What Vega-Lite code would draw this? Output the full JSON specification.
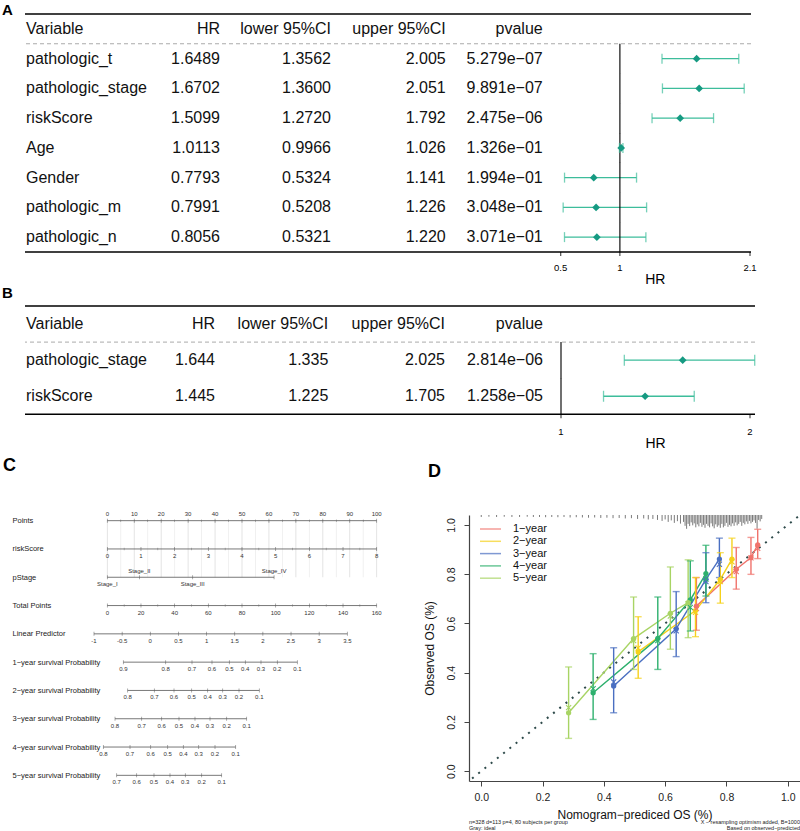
{
"$schema": "https://vega.github.io/schema/vega-lite/v6.json",
"padding": {"left": 2, "top": 2, "right": 0, "bottom": 0},
"config": {"view": {"stroke": null}, "font": "Liberation Sans", "text": {"color": "#111"}, "axis": {"grid": false, "labelFont": "Liberation Sans", "titleFont": "Liberation Sans"}, "title": {"font": "Liberation Sans", "color": "#000"}},
"datasets": {
"forestA": [
{"v": "Variable", "HRt": "HR", "lot": "lower 95%CI", "hit": "upper 95%CI", "pt": "pvalue"},
{"v": "pathologic_t", "HRt": "1.6489", "lot": "1.3562", "hit": "2.005", "pt": "5.279e−07", "hr": 1.6489, "lo": 1.3562, "hi": 2.005},
{"v": "pathologic_stage", "HRt": "1.6702", "lot": "1.3600", "hit": "2.051", "pt": "9.891e−07", "hr": 1.6702, "lo": 1.36, "hi": 2.051},
{"v": "riskScore", "HRt": "1.5099", "lot": "1.2720", "hit": "1.792", "pt": "2.475e−06", "hr": 1.5099, "lo": 1.272, "hi": 1.792},
{"v": "Age", "HRt": "1.0113", "lot": "0.9966", "hit": "1.026", "pt": "1.326e−01", "hr": 1.0113, "lo": 0.9966, "hi": 1.026},
{"v": "Gender", "HRt": "0.7793", "lot": "0.5324", "hit": "1.141", "pt": "1.994e−01", "hr": 0.7793, "lo": 0.5324, "hi": 1.141},
{"v": "pathologic_m", "HRt": "0.7991", "lot": "0.5208", "hit": "1.226", "pt": "3.048e−01", "hr": 0.7991, "lo": 0.5208, "hi": 1.226},
{"v": "pathologic_n", "HRt": "0.8056", "lot": "0.5321", "hit": "1.220", "pt": "3.071e−01", "hr": 0.8056, "lo": 0.5321, "hi": 1.22}
],
"forestB": [
{"v": "Variable", "HRt": "HR", "lot": "lower 95%CI", "hit": "upper 95%CI", "pt": "pvalue"},
{"v": "pathologic_stage", "HRt": "1.644", "lot": "1.335", "hit": "2.025", "pt": "2.814e−06", "hr": 1.644, "lo": 1.335, "hi": 2.025},
{"v": "riskScore", "HRt": "1.445", "lot": "1.225", "hit": "1.705", "pt": "1.258e−05", "hr": 1.445, "lo": 1.225, "hi": 1.705}
],
"axisA": [{"t": 0.5, "lab": "0.5"}, {"t": 1, "lab": "1"}, {"t": 2.1, "lab": "2.1"}],
"axisB": [{"t": 1, "lab": "1"}, {"t": 2, "lab": "2"}],
"nomo": [
{"axis": "Points", "label": "0", "pts": 0}, {"axis": "Points", "label": "10", "pts": 10}, {"axis": "Points", "label": "20", "pts": 20}, {"axis": "Points", "label": "30", "pts": 30}, {"axis": "Points", "label": "40", "pts": 40}, {"axis": "Points", "label": "50", "pts": 50}, {"axis": "Points", "label": "60", "pts": 60}, {"axis": "Points", "label": "70", "pts": 70}, {"axis": "Points", "label": "80", "pts": 80}, {"axis": "Points", "label": "90", "pts": 90}, {"axis": "Points", "label": "100", "pts": 100},
{"axis": "riskScore", "label": "0", "pts": 0}, {"axis": "riskScore", "label": "1", "pts": 12.5}, {"axis": "riskScore", "label": "2", "pts": 25}, {"axis": "riskScore", "label": "3", "pts": 37.5}, {"axis": "riskScore", "label": "4", "pts": 50}, {"axis": "riskScore", "label": "5", "pts": 62.5}, {"axis": "riskScore", "label": "6", "pts": 75}, {"axis": "riskScore", "label": "7", "pts": 87.5}, {"axis": "riskScore", "label": "8", "pts": 100},
{"axis": "pStage", "label": "Stage_I", "pts": 0}, {"axis": "pStage", "label": "Stage_II", "pts": 11.9}, {"axis": "pStage", "label": "Stage_III", "pts": 31.7}, {"axis": "pStage", "label": "Stage_IV", "pts": 61.9},
{"axis": "Total Points", "label": "0", "pts": 0}, {"axis": "Total Points", "label": "20", "pts": 12.5}, {"axis": "Total Points", "label": "40", "pts": 25}, {"axis": "Total Points", "label": "60", "pts": 37.5}, {"axis": "Total Points", "label": "80", "pts": 50}, {"axis": "Total Points", "label": "100", "pts": 62.5}, {"axis": "Total Points", "label": "120", "pts": 75}, {"axis": "Total Points", "label": "140", "pts": 87.5}, {"axis": "Total Points", "label": "160", "pts": 100},
{"axis": "Linear Predictor", "label": "-1", "pts": -4.94}, {"axis": "Linear Predictor", "label": "-0.5", "pts": 5.51}, {"axis": "Linear Predictor", "label": "0", "pts": 15.96}, {"axis": "Linear Predictor", "label": "0.5", "pts": 26.41}, {"axis": "Linear Predictor", "label": "1", "pts": 36.85}, {"axis": "Linear Predictor", "label": "1.5", "pts": 47.3}, {"axis": "Linear Predictor", "label": "2", "pts": 57.75}, {"axis": "Linear Predictor", "label": "2.5", "pts": 68.2}, {"axis": "Linear Predictor", "label": "3", "pts": 78.64}, {"axis": "Linear Predictor", "label": "3.5", "pts": 89.09},
{"axis": "1−year survival Probability", "label": "0.9", "pts": 5.94}, {"axis": "1−year survival Probability", "label": "0.8", "pts": 21.68}, {"axis": "1−year survival Probability", "label": "0.7", "pts": 31.44}, {"axis": "1−year survival Probability", "label": "0.6", "pts": 38.86}, {"axis": "1−year survival Probability", "label": "0.5", "pts": 45.29}, {"axis": "1−year survival Probability", "label": "0.4", "pts": 51.22}, {"axis": "1−year survival Probability", "label": "0.3", "pts": 57.05}, {"axis": "1−year survival Probability", "label": "0.2", "pts": 63.1}, {"axis": "1−year survival Probability", "label": "0.1", "pts": 70.53},
{"axis": "2−year survival Probability", "label": "0.8", "pts": 7.57}, {"axis": "2−year survival Probability", "label": "0.7", "pts": 17.45}, {"axis": "2−year survival Probability", "label": "0.6", "pts": 24.76}, {"axis": "2−year survival Probability", "label": "0.5", "pts": 31.33}, {"axis": "2−year survival Probability", "label": "0.4", "pts": 37.27}, {"axis": "2−year survival Probability", "label": "0.3", "pts": 42.84}, {"axis": "2−year survival Probability", "label": "0.2", "pts": 48.89}, {"axis": "2−year survival Probability", "label": "0.1", "pts": 56.42},
{"axis": "3−year survival Probability", "label": "0.8", "pts": 2.86}, {"axis": "3−year survival Probability", "label": "0.7", "pts": 12.77}, {"axis": "3−year survival Probability", "label": "0.6", "pts": 20.19}, {"axis": "3−year survival Probability", "label": "0.5", "pts": 26.61}, {"axis": "3−year survival Probability", "label": "0.4", "pts": 32.55}, {"axis": "3−year survival Probability", "label": "0.3", "pts": 38.12}, {"axis": "3−year survival Probability", "label": "0.2", "pts": 44.32}, {"axis": "3−year survival Probability", "label": "0.1", "pts": 51.74},
{"axis": "4−year survival Probability", "label": "0.8", "pts": -1.48}, {"axis": "4−year survival Probability", "label": "0.7", "pts": 8.43}, {"axis": "4−year survival Probability", "label": "0.6", "pts": 16.11}, {"axis": "4−year survival Probability", "label": "0.5", "pts": 22.42}, {"axis": "4−year survival Probability", "label": "0.4", "pts": 28.21}, {"axis": "4−year survival Probability", "label": "0.3", "pts": 33.93}, {"axis": "4−year survival Probability", "label": "0.2", "pts": 39.98}, {"axis": "4−year survival Probability", "label": "0.1", "pts": 47.66},
{"axis": "5−year survival Probability", "label": "0.7", "pts": 3.49}, {"axis": "5−year survival Probability", "label": "0.6", "pts": 10.91}, {"axis": "5−year survival Probability", "label": "0.5", "pts": 17.33}, {"axis": "5−year survival Probability", "label": "0.4", "pts": 23.27}, {"axis": "5−year survival Probability", "label": "0.3", "pts": 28.95}, {"axis": "5−year survival Probability", "label": "0.2", "pts": 35.04}, {"axis": "5−year survival Probability", "label": "0.1", "pts": 42.46}
],
"nomoMinor": [
{"axis": "Points", "pts": 5}, {"axis": "Points", "pts": 15}, {"axis": "Points", "pts": 25}, {"axis": "Points", "pts": 35}, {"axis": "Points", "pts": 45}, {"axis": "Points", "pts": 55}, {"axis": "Points", "pts": 65}, {"axis": "Points", "pts": 75}, {"axis": "Points", "pts": 85}, {"axis": "Points", "pts": 95},
{"axis": "riskScore", "pts": 6.25}, {"axis": "riskScore", "pts": 18.75}, {"axis": "riskScore", "pts": 31.25}, {"axis": "riskScore", "pts": 43.75}, {"axis": "riskScore", "pts": 56.25}, {"axis": "riskScore", "pts": 68.75}, {"axis": "riskScore", "pts": 81.25}, {"axis": "riskScore", "pts": 93.75},
{"axis": "Total Points", "pts": 6.25}, {"axis": "Total Points", "pts": 18.75}, {"axis": "Total Points", "pts": 31.25}, {"axis": "Total Points", "pts": 43.75}, {"axis": "Total Points", "pts": 56.25}, {"axis": "Total Points", "pts": 68.75}, {"axis": "Total Points", "pts": 81.25}, {"axis": "Total Points", "pts": 93.75}
],
"cal": [
{"s": "1−year", "x": 0.702, "y": 0.670, "lo": 0.572, "hi": 0.786, "c": 0.660},
{"s": "1−year", "x": 0.832, "y": 0.820, "lo": 0.739, "hi": 0.908, "c": 0.810},
{"s": "1−year", "x": 0.880, "y": 0.867, "lo": 0.799, "hi": 0.949, "c": 0.866},
{"s": "1−year", "x": 0.902, "y": 0.919, "lo": 0.863, "hi": 0.982, "c": 0.905},
{"s": "2−year", "x": 0.512, "y": 0.484, "lo": 0.377, "hi": 0.627, "c": 0.500},
{"s": "2−year", "x": 0.699, "y": 0.652, "lo": 0.546, "hi": 0.786, "c": 0.645},
{"s": "2−year", "x": 0.780, "y": 0.779, "lo": 0.682, "hi": 0.887, "c": 0.770},
{"s": "2−year", "x": 0.818, "y": 0.861, "lo": 0.786, "hi": 0.946, "c": 0.850},
{"s": "3−year", "x": 0.432, "y": 0.346, "lo": 0.237, "hi": 0.501, "c": 0.362},
{"s": "3−year", "x": 0.636, "y": 0.578, "lo": 0.465, "hi": 0.729, "c": 0.570},
{"s": "3−year", "x": 0.733, "y": 0.779, "lo": 0.684, "hi": 0.887, "c": 0.770},
{"s": "3−year", "x": 0.777, "y": 0.861, "lo": 0.786, "hi": 0.946, "c": 0.840},
{"s": "4−year", "x": 0.365, "y": 0.318, "lo": 0.210, "hi": 0.477, "c": 0.335},
{"s": "4−year", "x": 0.576, "y": 0.539, "lo": 0.413, "hi": 0.707, "c": 0.530},
{"s": "4−year", "x": 0.682, "y": 0.695, "lo": 0.569, "hi": 0.854, "c": 0.665},
{"s": "4−year", "x": 0.733, "y": 0.802, "lo": 0.711, "hi": 0.917, "c": 0.780},
{"s": "5−year", "x": 0.285, "y": 0.237, "lo": 0.133, "hi": 0.423, "c": 0.258},
{"s": "5−year", "x": 0.497, "y": 0.538, "lo": 0.413, "hi": 0.707, "c": 0.530},
{"s": "5−year", "x": 0.617, "y": 0.641, "lo": 0.495, "hi": 0.829, "c": 0.630},
{"s": "5−year", "x": 0.675, "y": 0.684, "lo": 0.542, "hi": 0.858, "c": 0.680}
],
"rug": [
{"p": 0.0, "e": 1.032}, {"p": 0.025, "e": 1.033}, {"p": 0.05, "e": 1.032}, {"p": 0.075, "e": 1.033}, {"p": 0.1, "e": 1.032}, {"p": 0.125, "e": 1.032}, {"p": 0.15, "e": 1.033}, {"p": 0.17, "e": 1.032}, {"p": 0.19, "e": 1.032}, {"p": 0.21, "e": 1.031}, {"p": 0.23, "e": 1.032}, {"p": 0.25, "e": 1.031}, {"p": 0.27, "e": 1.032}, {"p": 0.29, "e": 1.03}, {"p": 0.31, "e": 1.031}, {"p": 0.33, "e": 1.03}, {"p": 0.35, "e": 1.029}, {"p": 0.37, "e": 1.03}, {"p": 0.39, "e": 1.028}, {"p": 0.41, "e": 1.029}, {"p": 0.43, "e": 1.027}, {"p": 0.45, "e": 1.028}, {"p": 0.47, "e": 1.026}, {"p": 0.49, "e": 1.027}, {"p": 0.51, "e": 1.024}, {"p": 0.53, "e": 1.026}, {"p": 0.545, "e": 1.022}, {"p": 0.56, "e": 1.024}, {"p": 0.575, "e": 1.02}, {"p": 0.59, "e": 1.016}, {"p": 0.6, "e": 1.022}, {"p": 0.61, "e": 1.012}, {"p": 0.62, "e": 1.018}, {"p": 0.63, "e": 1.008}, {"p": 0.64, "e": 1.015}, {"p": 0.65, "e": 1.005}, {"p": 0.66, "e": 1.012}, {"p": 0.665, "e": 0.996}, {"p": 0.67, "e": 0.984}, {"p": 0.675, "e": 1.004}, {"p": 0.68, "e": 0.995}, {"p": 0.685, "e": 1.01}, {"p": 0.69, "e": 0.998}, {"p": 0.695, "e": 1.006}, {"p": 0.7, "e": 0.99}, {"p": 0.705, "e": 1.002}, {"p": 0.71, "e": 0.994}, {"p": 0.715, "e": 1.008}, {"p": 0.72, "e": 0.992}, {"p": 0.725, "e": 1.0}, {"p": 0.73, "e": 0.988}, {"p": 0.735, "e": 1.004}, {"p": 0.74, "e": 0.996}, {"p": 0.745, "e": 0.99}, {"p": 0.75, "e": 1.006}, {"p": 0.755, "e": 0.994}, {"p": 0.76, "e": 0.986}, {"p": 0.765, "e": 1.002}, {"p": 0.77, "e": 0.992}, {"p": 0.775, "e": 0.998}, {"p": 0.78, "e": 0.988}, {"p": 0.785, "e": 1.004}, {"p": 0.79, "e": 0.99}, {"p": 0.795, "e": 0.996}, {"p": 0.8, "e": 1.008}, {"p": 0.805, "e": 0.992}, {"p": 0.81, "e": 1.0}, {"p": 0.815, "e": 0.994}, {"p": 0.82, "e": 1.006}, {"p": 0.825, "e": 0.996}, {"p": 0.83, "e": 1.01}, {"p": 0.835, "e": 0.998}, {"p": 0.84, "e": 1.004}, {"p": 0.845, "e": 1.012}, {"p": 0.85, "e": 0.996}, {"p": 0.855, "e": 1.008}, {"p": 0.86, "e": 1.002}, {"p": 0.865, "e": 1.014}, {"p": 0.87, "e": 1.004}, {"p": 0.875, "e": 1.016}, {"p": 0.88, "e": 1.006}, {"p": 0.885, "e": 1.012}, {"p": 0.89, "e": 1.018}, {"p": 0.895, "e": 1.008}, {"p": 0.9, "e": 0.984}, {"p": 0.905, "e": 1.02}, {"p": 0.91, "e": 1.014}, {"p": 0.915, "e": 1.024}
]
},
"bounds": "flush",
"spacing": 54,
"resolve": {"scale": {"color": "independent"}, "legend": {"color": "independent"}},
"vconcat": [
{
"width": 726, "height": 238,
"title": {"text": "A", "anchor": "start", "frame": "group", "dx": -23, "offset": -16.5, "fontSize": 15, "fontWeight": "bold", "baseline": "alphabetic"},
"data": {"name": "forestA"},
"encoding": {"y": {"field": "v", "type": "nominal", "scale": {"type": "band", "domain": ["Variable", "pathologic_t", "pathologic_stage", "riskScore", "Age", "Gender", "pathologic_m", "pathologic_n"], "paddingInner": 0, "paddingOuter": 0}, "axis": null}},
"resolve": {"scale": {"x": "independent"}, "axis": {"x": "independent"}},
"layer": [
{"data": {"values": [{"v": "Variable"}]}, "mark": {"type": "rule", "color": "#000", "strokeWidth": 1.5}, "encoding": {"y": {"field": "v", "type": "nominal", "bandPosition": 0}}},
{"data": {"values": [{"v": "Variable"}]}, "mark": {"type": "rule", "color": "#aaa", "strokeWidth": 1, "strokeDash": [4, 3]}, "encoding": {"y": {"field": "v", "type": "nominal", "bandPosition": 1}}},
{"data": {"values": [{"v": "pathologic_n"}]}, "mark": {"type": "rule", "color": "#000", "strokeWidth": 1.5}, "encoding": {"y": {"field": "v", "type": "nominal", "bandPosition": 1}}},
{"layer": [
{"mark": {"type": "text", "align": "left", "baseline": "middle", "fontSize": 16}, "encoding": {"x": {"datum": 0, "type": "quantitative", "scale": {"domain": [0, 1, 2, 3, 4], "range": [1, 195, 306, 420.7, 517.7], "nice": false, "zero": false}, "axis": null}, "text": {"field": "v"}}},
{"mark": {"type": "text", "align": "right", "baseline": "middle", "fontSize": 16}, "encoding": {"x": {"datum": 1, "type": "quantitative", "axis": null}, "text": {"field": "HRt"}}},
{"mark": {"type": "text", "align": "right", "baseline": "middle", "fontSize": 16}, "encoding": {"x": {"datum": 2, "type": "quantitative", "axis": null}, "text": {"field": "lot"}}},
{"mark": {"type": "text", "align": "right", "baseline": "middle", "fontSize": 16}, "encoding": {"x": {"datum": 3, "type": "quantitative", "axis": null}, "text": {"field": "hit"}}},
{"mark": {"type": "text", "align": "right", "baseline": "middle", "fontSize": 16}, "encoding": {"x": {"datum": 4, "type": "quantitative", "axis": null}, "text": {"field": "pt"}}}
]},
{"layer": [
{"transform": [{"filter": "isValid(datum.hr)"}], "mark": {"type": "rule", "color": "#3dbd9b", "strokeWidth": 1.3}, "encoding": {"x": {"field": "lo", "type": "quantitative", "scale": {"domain": [0.5, 2.1], "range": [535.7, 725], "nice": false, "zero": false}, "axis": null}, "x2": {"field": "hi"}}},
{"transform": [{"filter": "isValid(datum.hr)"}], "mark": {"type": "tick", "orient": "vertical", "size": 30, "thickness": 1.6, "color": "#000"}, "encoding": {"x": {"datum": 1, "type": "quantitative", "axis": null}}},
{"transform": [{"filter": "isValid(datum.hr)"}], "mark": {"type": "tick", "orient": "vertical", "size": 10, "thickness": 1.3, "color": "#3dbd9b"}, "encoding": {"x": {"field": "lo", "type": "quantitative", "axis": null}}},
{"transform": [{"filter": "isValid(datum.hr)"}], "mark": {"type": "tick", "orient": "vertical", "size": 10, "thickness": 1.3, "color": "#3dbd9b"}, "encoding": {"x": {"field": "hi", "type": "quantitative", "axis": null}}},
{"transform": [{"filter": "isValid(datum.hr)"}], "mark": {"type": "point", "shape": "diamond", "filled": true, "size": 60, "color": "#169a82", "opacity": 1}, "encoding": {"x": {"field": "hr", "type": "quantitative", "axis": null}}},
{"data": {"name": "axisA"}, "mark": {"type": "tick", "orient": "vertical", "size": 4, "thickness": 1.2, "color": "#000", "yOffset": 16.9}, "encoding": {"x": {"field": "t", "type": "quantitative", "axis": null}, "y": {"datum": "pathologic_n", "type": "nominal"}}},
{"data": {"name": "axisA"}, "mark": {"type": "text", "fontSize": 9.5, "color": "#000", "baseline": "middle", "dy": 30.6}, "encoding": {"x": {"field": "t", "type": "quantitative", "axis": null}, "y": {"datum": "pathologic_n", "type": "nominal"}, "text": {"field": "lab"}}},
{"data": {"values": [{"t": 1.3, "lab": "HR"}]}, "mark": {"type": "text", "fontSize": 14, "color": "#000", "baseline": "middle", "dy": 42.4}, "encoding": {"x": {"field": "t", "type": "quantitative", "axis": null}, "y": {"datum": "pathologic_n", "type": "nominal"}, "text": {"field": "lab"}}}
]}
]
},
{
"width": 730, "height": 155,
"title": {"text": "B", "anchor": "start", "frame": "group", "dx": -23, "offset": -7.75, "fontSize": 15, "fontWeight": "bold", "baseline": "alphabetic"},
"data": {"name": "forestB"},
"encoding": {"y": {"field": "v", "type": "nominal", "scale": {"type": "band", "domain": ["Variable", "pathologic_stage", "riskScore"], "range": [0, 108.3], "paddingInner": 0, "paddingOuter": 0}, "axis": null}},
"resolve": {"scale": {"x": "independent"}, "axis": {"x": "independent"}},
"layer": [
{"data": {"values": [{"v": "Variable"}]}, "mark": {"type": "rule", "color": "#000", "strokeWidth": 1.5}, "encoding": {"y": {"field": "v", "type": "nominal", "bandPosition": 0}}},
{"data": {"values": [{"v": "Variable"}]}, "mark": {"type": "rule", "color": "#aaa", "strokeWidth": 1, "strokeDash": [4, 3]}, "encoding": {"y": {"field": "v", "type": "nominal", "bandPosition": 1}}},
{"data": {"values": [{"v": "riskScore"}]}, "mark": {"type": "rule", "color": "#000", "strokeWidth": 1.5}, "encoding": {"y": {"field": "v", "type": "nominal", "bandPosition": 1}}},
{"layer": [
{"mark": {"type": "text", "align": "left", "baseline": "middle", "fontSize": 16}, "encoding": {"x": {"datum": 0, "type": "quantitative", "scale": {"domain": [0, 1, 2, 3, 4], "range": [1, 190, 303.3, 420, 518], "nice": false, "zero": false}, "axis": null}, "text": {"field": "v"}}},
{"mark": {"type": "text", "align": "right", "baseline": "middle", "fontSize": 16}, "encoding": {"x": {"datum": 1, "type": "quantitative", "axis": null}, "text": {"field": "HRt"}}},
{"mark": {"type": "text", "align": "right", "baseline": "middle", "fontSize": 16}, "encoding": {"x": {"datum": 2, "type": "quantitative", "axis": null}, "text": {"field": "lot"}}},
{"mark": {"type": "text", "align": "right", "baseline": "middle", "fontSize": 16}, "encoding": {"x": {"datum": 3, "type": "quantitative", "axis": null}, "text": {"field": "hit"}}},
{"mark": {"type": "text", "align": "right", "baseline": "middle", "fontSize": 16}, "encoding": {"x": {"datum": 4, "type": "quantitative", "axis": null}, "text": {"field": "pt"}}}
]},
{"layer": [
{"transform": [{"filter": "isValid(datum.hr)"}], "mark": {"type": "rule", "color": "#3dbd9b", "strokeWidth": 1.3}, "encoding": {"x": {"field": "lo", "type": "quantitative", "scale": {"domain": [1, 2], "range": [536, 725], "nice": false, "zero": false}, "axis": null}, "x2": {"field": "hi"}}},
{"transform": [{"filter": "isValid(datum.hr)"}], "mark": {"type": "tick", "orient": "vertical", "size": 36.3, "thickness": 1.6, "color": "#000"}, "encoding": {"x": {"datum": 1, "type": "quantitative", "axis": null}}},
{"transform": [{"filter": "isValid(datum.hr)"}], "mark": {"type": "tick", "orient": "vertical", "size": 11, "thickness": 1.3, "color": "#3dbd9b"}, "encoding": {"x": {"field": "lo", "type": "quantitative", "axis": null}}},
{"transform": [{"filter": "isValid(datum.hr)"}], "mark": {"type": "tick", "orient": "vertical", "size": 11, "thickness": 1.3, "color": "#3dbd9b"}, "encoding": {"x": {"field": "hi", "type": "quantitative", "axis": null}}},
{"transform": [{"filter": "isValid(datum.hr)"}], "mark": {"type": "point", "shape": "diamond", "filled": true, "size": 60, "color": "#169a82", "opacity": 1}, "encoding": {"x": {"field": "hr", "type": "quantitative", "axis": null}}},
{"data": {"name": "axisB"}, "mark": {"type": "tick", "orient": "vertical", "size": 4, "thickness": 1.2, "color": "#000", "yOffset": 20.05}, "encoding": {"x": {"field": "t", "type": "quantitative", "axis": null}, "y": {"datum": "riskScore", "type": "nominal"}}},
{"data": {"name": "axisB"}, "mark": {"type": "text", "fontSize": 9.5, "color": "#000", "baseline": "middle", "dy": 35.75}, "encoding": {"x": {"field": "t", "type": "quantitative", "axis": null}, "y": {"datum": "riskScore", "type": "nominal"}, "text": {"field": "lab"}}},
{"data": {"values": [{"t": 1.5, "lab": "HR"}]}, "mark": {"type": "text", "fontSize": 14, "color": "#000", "baseline": "middle", "dy": 47.5}, "encoding": {"x": {"field": "t", "type": "quantitative", "axis": null}, "y": {"datum": "riskScore", "type": "nominal"}, "text": {"field": "lab"}}}
]}
]
},
{"bounds": "flush", "spacing": 44, "resolve": {"scale": {"color": "independent"}, "legend": {"color": "independent"}}, "hconcat": [
{
"width": 400, "height": 266,
"title": {"text": "C", "anchor": "start", "frame": "group", "dx": -22, "offset": 22, "fontSize": 18, "fontWeight": "bold", "baseline": "alphabetic"},
"encoding": {"y": {"field": "axis", "type": "nominal", "scale": {"type": "point", "domain": ["Points", "riskScore", "pStage", "Total Points", "Linear Predictor", "1−year survival Probability", "2−year survival Probability", "3−year survival Probability", "4−year survival Probability", "5−year survival Probability"], "padding": 0.2}, "axis": {"domain": false, "ticks": false, "tickSize": 0, "labelAlign": "left", "labelBaseline": "middle", "labelPadding": 13, "labelFont": "Liberation Sans Narrow, Noto Sans Condensed, Liberation Sans", "labelFontSize": 7.5, "labelColor": "#222", "labelLimit": 0, "title": null}}},
"layer": [
{"data": {"name": "nomoMinor"}, "transform": [{"filter": "datum.axis == 'Points'"}], "mark": {"type": "tick", "orient": "vertical", "size": 56.7, "thickness": 0.8, "color": "#e6e6e6"}, "encoding": {"x": {"field": "pts", "type": "quantitative", "scale": {"domain": [-30.55, 117.93], "nice": false, "zero": false}, "axis": null}, "y": {"datum": "riskScore", "type": "nominal"}}},
{"data": {"name": "nomo"}, "transform": [{"filter": "datum.axis == 'Points'"}], "mark": {"type": "tick", "orient": "vertical", "size": 56.7, "thickness": 0.8, "color": "#cfcfcf"}, "encoding": {"x": {"field": "pts", "type": "quantitative"}, "y": {"datum": "riskScore", "type": "nominal"}}},
{"data": {"name": "nomo"}, "transform": [{"aggregate": [{"op": "min", "field": "pts", "as": "lo"}, {"op": "max", "field": "pts", "as": "hi"}], "groupby": ["axis"]}], "mark": {"type": "rule", "color": "#555", "strokeWidth": 0.8}, "encoding": {"x": {"field": "lo", "type": "quantitative"}, "x2": {"field": "hi"}}},
{"data": {"name": "nomo"}, "mark": {"type": "tick", "orient": "vertical", "size": 4, "thickness": 0.7, "color": "#555"}, "encoding": {"x": {"field": "pts", "type": "quantitative"}}},
{"data": {"name": "nomoMinor"}, "mark": {"type": "tick", "orient": "vertical", "size": 2.5, "thickness": 0.6, "color": "#666"}, "encoding": {"x": {"field": "pts", "type": "quantitative"}}},
{"data": {"name": "nomo"}, "transform": [{"filter": "datum.axis != 'Points' && datum.label != 'Stage_II' && datum.label != 'Stage_IV'"}], "mark": {"type": "text", "baseline": "middle", "dy": 7, "fontSize": 6, "font": "Liberation Sans Narrow, Noto Sans Condensed, Liberation Sans", "color": "#333"}, "encoding": {"x": {"field": "pts", "type": "quantitative"}, "text": {"field": "label"}}},
{"data": {"name": "nomo"}, "transform": [{"filter": "datum.axis == 'Points' || datum.label == 'Stage_II' || datum.label == 'Stage_IV'"}], "mark": {"type": "text", "baseline": "middle", "dy": -6.5, "fontSize": 6, "font": "Liberation Sans Narrow, Noto Sans Condensed, Liberation Sans", "color": "#333"}, "encoding": {"x": {"field": "pts", "type": "quantitative"}, "text": {"field": "label"}}}
]
},
{
"width": 331, "height": 266,
"title": {"text": "D", "anchor": "start", "frame": "group", "dx": -41, "offset": 16, "fontSize": 18, "fontWeight": "bold", "baseline": "alphabetic"},
"layer": [
{"data": {"name": "rug"}, "mark": {"type": "rule", "color": "#222", "strokeWidth": 0.6}, "encoding": {
"x": {"field": "p", "type": "quantitative", "scale": {"domain": [-0.04, 1.04], "nice": false, "zero": false}, "axis": {"values": [0, 0.2, 0.4, 0.6, 0.8, 1], "format": ".1f", "title": "Nomogram−prediced OS (%)", "domainColor": "#444", "domainWidth": 1.2, "tickColor": "#444", "tickSize": 5, "labelFontSize": 10.5, "labelColor": "#222", "labelPadding": 6, "labelFlush": false, "titleFontSize": 12, "titleFontWeight": "normal", "titleColor": "#111", "titlePadding": 7}},
"y": {"field": "e", "type": "quantitative", "scale": {"domain": [-0.04, 1.04], "nice": false, "zero": false}, "axis": {"values": [0, 0.2, 0.4, 0.6, 0.8, 1], "format": ".1f", "title": "Observed OS (%)", "domainColor": "#444", "domainWidth": 1.2, "tickColor": "#444", "tickSize": 5, "labelAngle": 270, "labelAlign": "center", "labelBaseline": "bottom", "labelFontSize": 10.5, "labelColor": "#222", "labelPadding": 8, "labelFlush": false, "titleFontSize": 12, "titleFontWeight": "normal", "titleColor": "#111", "titlePadding": 10}},
"y2": {"datum": 1.04}}},
{"data": {"values": [{"x": -0.03, "y": -0.03}, {"x": 1.04, "y": 1.04}]}, "mark": {"type": "line", "color": "#2e4a4a", "strokeDash": [2, 6], "strokeWidth": 2}, "encoding": {"x": {"field": "x", "type": "quantitative"}, "y": {"field": "y", "type": "quantitative"}}},
{"data": {"name": "cal"}, "mark": {"type": "line", "strokeWidth": 1.4}, "encoding": {"x": {"field": "x", "type": "quantitative"}, "y": {"field": "y", "type": "quantitative"}, "color": {"field": "s", "type": "nominal", "scale": {"domain": ["1−year", "2−year", "3−year", "4−year", "5−year"], "range": ["#f0736c", "#f5d11b", "#4a6fc1", "#2db06d", "#a8d464"]}, "legend": {"title": null, "orient": "none", "legendX": 14.5, "legendY": 7, "padding": 0, "symbolType": "M-1.75,0H1.75", "symbolSize": 144, "symbolStrokeWidth": 1.5, "labelFontSize": 11, "labelFont": "Liberation Sans", "labelColor": "#111", "labelOffset": 15.5, "rowPadding": 0.3}}}},
{"data": {"name": "cal"}, "mark": {"type": "rule", "strokeWidth": 1.4}, "encoding": {"x": {"field": "x", "type": "quantitative"}, "y": {"field": "lo", "type": "quantitative"}, "y2": {"field": "hi"}, "color": {"field": "s", "type": "nominal"}}},
{"data": {"name": "cal"}, "mark": {"type": "tick", "orient": "horizontal", "size": 7, "thickness": 1.4}, "encoding": {"x": {"field": "x", "type": "quantitative"}, "y": {"field": "lo", "type": "quantitative"}, "color": {"field": "s", "type": "nominal"}}},
{"data": {"name": "cal"}, "mark": {"type": "tick", "orient": "horizontal", "size": 7, "thickness": 1.4}, "encoding": {"x": {"field": "x", "type": "quantitative"}, "y": {"field": "hi", "type": "quantitative"}, "color": {"field": "s", "type": "nominal"}}},
{"data": {"name": "cal"}, "mark": {"type": "point", "filled": true, "size": 28, "opacity": 1}, "encoding": {"x": {"field": "x", "type": "quantitative"}, "y": {"field": "y", "type": "quantitative"}, "color": {"field": "s", "type": "nominal"}}},
{"data": {"name": "cal"}, "mark": {"type": "point", "filled": false, "shape": "M-1,-1L1,1M-1,1L1,-1", "size": 26, "strokeWidth": 1.1, "opacity": 1}, "encoding": {"x": {"field": "x", "type": "quantitative"}, "y": {"field": "c", "type": "quantitative"}, "color": {"field": "s", "type": "nominal"}}},
{"data": {"values": [{"t": ["n=328 d=113 p=4, 80 subjects per group", "Gray: ideal"]}]}, "mark": {"type": "text", "align": "left", "baseline": "top", "fontSize": 5.5, "lineHeight": 6, "color": "#222"}, "encoding": {"x": {"datum": -0.04, "type": "quantitative"}, "y": {"datum": -0.2, "type": "quantitative"}, "text": {"field": "t"}}},
{"data": {"values": [{"t": ["X − resampling optimism added, B=1000", "Based on observed−predicted"]}]}, "mark": {"type": "text", "align": "right", "baseline": "top", "fontSize": 5.5, "lineHeight": 6, "color": "#222"}, "encoding": {"x": {"datum": 1.04, "type": "quantitative"}, "y": {"datum": -0.2, "type": "quantitative"}, "text": {"field": "t"}}}
]
}
]}
]
}
